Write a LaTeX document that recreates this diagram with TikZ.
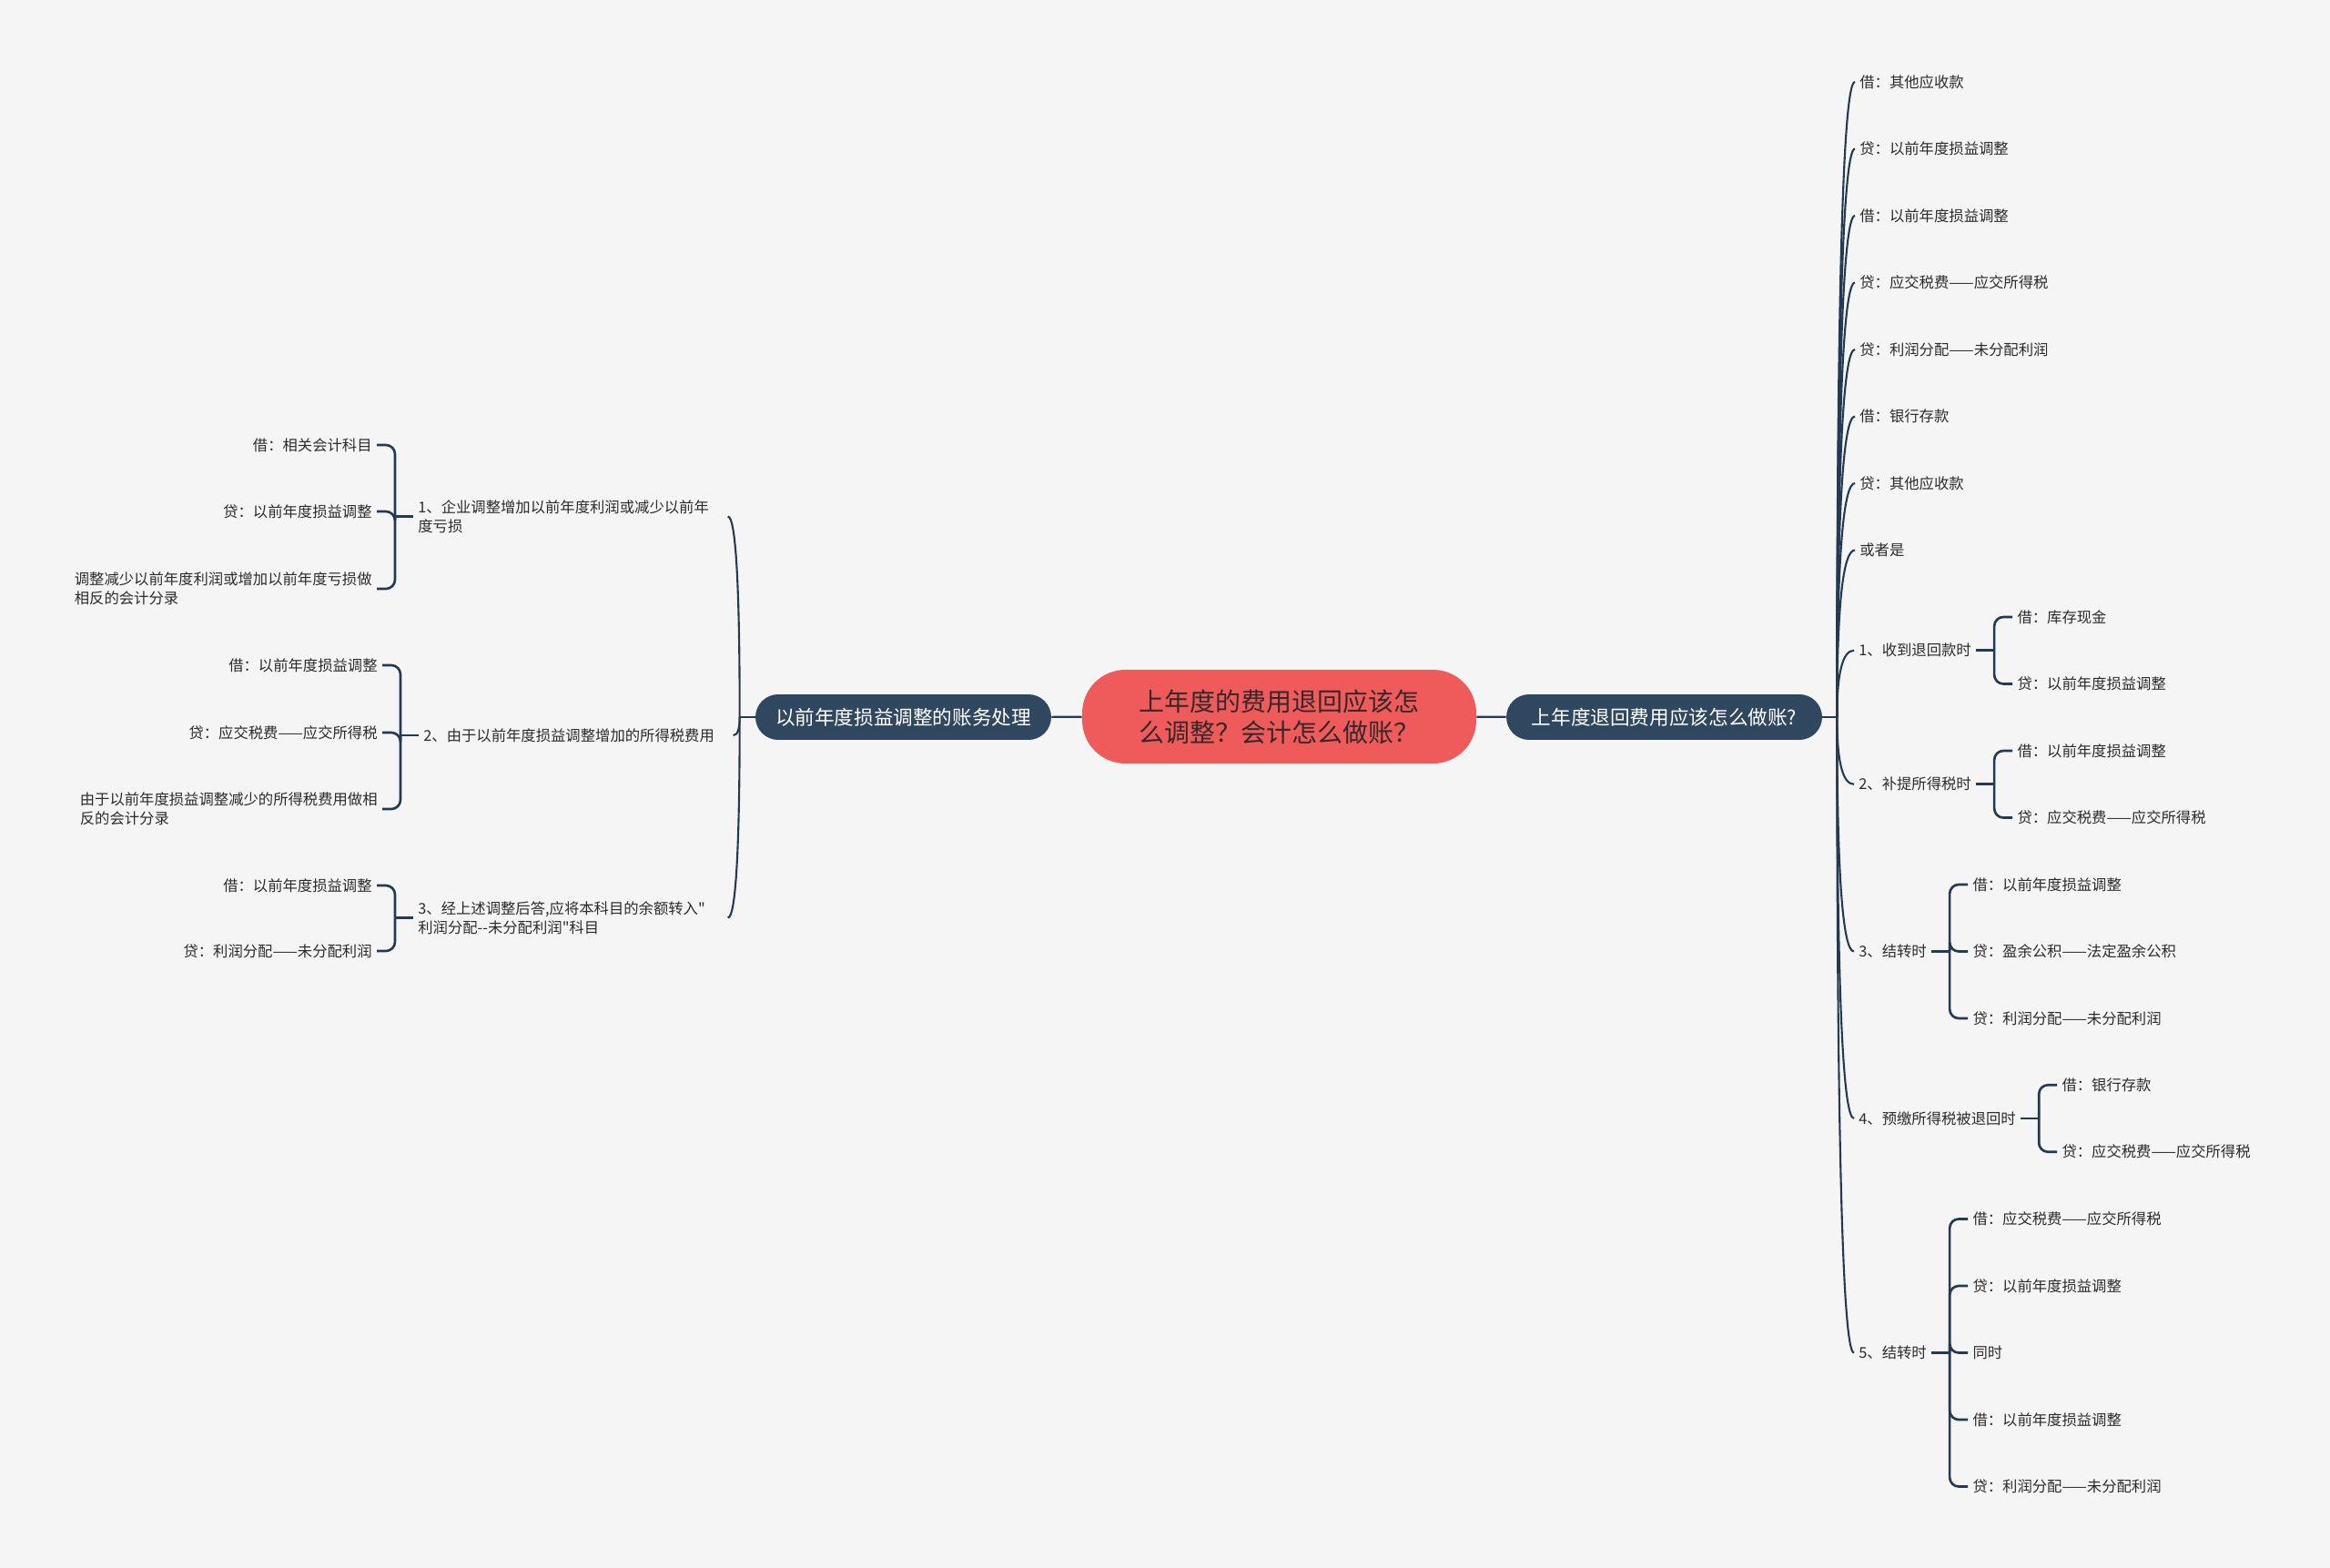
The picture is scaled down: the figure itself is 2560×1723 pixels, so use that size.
\documentclass[tikz,border=0pt]{standalone}
\usepackage{fontspec}
\usepackage{xcolor}
\usepackage{tikz}
\usetikzlibrary{calc, positioning}
\newfontfamily\zh{Noto Sans CJK SC}
\definecolor{paper}{HTML}{F5F5F5}
\definecolor{rootred}{HTML}{EF5A5A}
\definecolor{roottext}{HTML}{35282A}
\definecolor{topicblue}{HTML}{304760}
\definecolor{linkblue}{HTML}{233A52}
\definecolor{leaftext}{HTML}{2B2B2B}
\tikzstyle{root} = [rectangle, rounded corners=0.95cm, fill=rootred, text=roottext, minimum width=8.66cm, minimum height=2.06cm, align=left, font=\zh\fontsize{15.9}{19.5}\selectfont]
\tikzstyle{topic} = [rectangle, rounded corners=0.5cm, fill=topicblue, text=white, minimum height=1cm, font=\zh\fontsize{12.3}{15}\selectfont]
\tikzstyle{leaf} = [inner sep=0.1cm, text=leaftext, font=\zh\fontsize{9.3}{11.9}\selectfont]
\tikzstyle{link} = [linkblue, line width=1.2pt]
\tikzstyle{brace} = [linkblue, line width=1.5pt, rounded corners=0.2cm]

\begin{document}
\begin{tikzpicture}[x=0.02cm, y=-0.02cm]
    \fill[paper] (0,0) rectangle (2560,1723);
    \useasboundingbox (0,0) rectangle (2560,1723);

    % Root and main topics
    \node[root] (root) at (1405.5, 787.5) {上年度的费用退回应该怎\\么调整？会计怎么做账？};
    \node[topic, minimum width=6.94cm] (rtopic) at (1828.5, 788) {上年度退回费用应该怎么做账?};
    \node[topic, minimum width=6.5cm] (ltopic) at (992.5, 788) {以前年度损益调整的账务处理};
    \draw[link] (root) -- (rtopic);
    \draw[link] (root) -- (ltopic);

    % Right side, single entries
    \foreach \i/\txt in {1/借：其他应收款, 2/贷：以前年度损益调整, 3/借：以前年度损益调整, 4/贷：应交税费——应交所得税, 5/贷：利润分配——未分配利润, 6/借：银行存款, 7/贷：其他应收款, 8/或者是} {
        \node[leaf, anchor=west] (r\i) at (2038, {90+73.5*(\i-1)}) {\txt};
    }

    % Right side, steps
    \node[leaf, anchor=west] (rs1) at (2037, 714.75) {1、收到退回款时};
    \node[leaf, anchor=west] (rs2) at (2037, 861.75) {2、补提所得税时};
    \node[leaf, anchor=west] (rs3) at (2037, 1045.5) {3、结转时};
    \node[leaf, anchor=west] (rs4) at (2037, 1229) {4、预缴所得税被退回时};
    \node[leaf, anchor=west] (rs5) at (2037, 1486.5) {5、结转时};

    \node[leaf, anchor=west] (rs1a) at ($(rs1.east)+(40,-36.75)$) {借：库存现金};
    \node[leaf, anchor=west] (rs1b) at ($(rs1.east)+(40,36.75)$) {贷：以前年度损益调整};
    \node[leaf, anchor=west] (rs2a) at ($(rs2.east)+(40,-36.75)$) {借：以前年度损益调整};
    \node[leaf, anchor=west] (rs2b) at ($(rs2.east)+(40,36.75)$) {贷：应交税费——应交所得税};
    \node[leaf, anchor=west] (rs3a) at ($(rs3.east)+(40,-73.5)$) {借：以前年度损益调整};
    \node[leaf, anchor=west] (rs3b) at ($(rs3.east)+(40,0)$) {贷：盈余公积——法定盈余公积};
    \node[leaf, anchor=west] (rs3c) at ($(rs3.east)+(40,73.5)$) {贷：利润分配——未分配利润};
    \node[leaf, anchor=west] (rs4a) at ($(rs4.east)+(40,-36.75)$) {借：银行存款};
    \node[leaf, anchor=west] (rs4b) at ($(rs4.east)+(40,36.75)$) {贷：应交税费——应交所得税};
    \node[leaf, anchor=west] (rs5a) at ($(rs5.east)+(40,-147)$) {借：应交税费——应交所得税};
    \node[leaf, anchor=west] (rs5b) at ($(rs5.east)+(40,-73.5)$) {贷：以前年度损益调整};
    \node[leaf, anchor=west] (rs5c) at ($(rs5.east)+(40,0)$) {同时};
    \node[leaf, anchor=west] (rs5d) at ($(rs5.east)+(40,73.5)$) {借：以前年度损益调整};
    \node[leaf, anchor=west] (rs5e) at ($(rs5.east)+(40,147)$) {贷：利润分配——未分配利润};

    % Right trunk
    \coordinate (rt) at ($(rtopic.east)+(16,0)$);
    \draw[link] (rtopic.east) -- (rt);
    \foreach \n in {r1,r2,r3,r4,r5,r6,r7,r8,rs1,rs2,rs3,rs4,rs5} {
        \draw[link] (rt) .. controls ($(rt)!2/3!(rt |- \n.west)$) and ($(\n.west)!2/3!(rt |- \n.west)$) .. (\n.west);
    }

    % Right brackets
    \foreach \p/\kids in {rs1/{rs1a,rs1b}, rs2/{rs2a,rs2b}, rs3/{rs3a,rs3b,rs3c}, rs4/{rs4a,rs4b}, rs5/{rs5a,rs5b,rs5c,rs5d,rs5e}} {
        \coordinate (\p-b) at ($(\p.east)+(20,0)$);
        \draw[brace] (\p.east) -- (\p-b);
        \foreach \k in \kids {
            \draw[brace] (\p-b) |- (\k.west);
        }
    }

    % Left side, steps
    \node[leaf, anchor=west, align=left, text width=6.7cm] (ls1) at (454, 567.5) {1、企业调整增加以前年度利润或减少以前年\\度亏损};
    \node[leaf, anchor=west, align=left, text width=6.7cm] (ls2) at (460, 808) {2、由于以前年度损益调整增加的所得税费用};
    \node[leaf, anchor=west, align=left, text width=6.7cm] (ls3) at (454, 1008.5) {3、经上述调整后答,应将本科目的余额转入"\\利润分配--未分配利润"科目};

    \node[leaf, anchor=east] (ls1a) at ($(ls1.west)+(-40,-78.5)$) {借：相关会计科目};
    \node[leaf, anchor=east] (ls1b) at ($(ls1.west)+(-40,-5.5)$) {贷：以前年度损益调整};
    \node[leaf, anchor=east, align=left] (ls1c) at ($(ls1.west)+(-40,79.5)$) {调整减少以前年度利润或增加以前年度亏损做\\相反的会计分录};
    \node[leaf, anchor=east] (ls2a) at ($(ls2.west)+(-40,-77)$) {借：以前年度损益调整};
    \node[leaf, anchor=east] (ls2b) at ($(ls2.west)+(-40,-3)$) {贷：应交税费——应交所得税};
    \node[leaf, anchor=east, align=left] (ls2c) at ($(ls2.west)+(-40,81)$) {由于以前年度损益调整减少的所得税费用做相\\反的会计分录};
    \node[leaf, anchor=east] (ls3a) at ($(ls3.west)+(-40,-35.5)$) {借：以前年度损益调整};
    \node[leaf, anchor=east] (ls3b) at ($(ls3.west)+(-40,36.5)$) {贷：利润分配——未分配利润};

    % Left trunk
    \coordinate (lt) at ($(ltopic.west)+(-17,0)$);
    \draw[link] (ltopic.west) -- (lt);
    \foreach \n in {ls1,ls2,ls3} {
        \draw[link] (lt) .. controls ($(lt)!2/3!(lt |- \n.east)$) and ($(\n.east)!2/3!(lt |- \n.east)$) .. (\n.east);
    }

    % Left brackets
    \foreach \p/\kids in {ls1/{ls1a,ls1b,ls1c}, ls2/{ls2a,ls2b,ls2c}, ls3/{ls3a,ls3b}} {
        \coordinate (\p-b) at ($(\p.west)+(-20,0)$);
        \draw[brace] (\p.west) -- (\p-b);
        \foreach \k in \kids {
            \draw[brace] (\p-b) |- (\k.east);
        }
    }
\end{tikzpicture}
\end{document}
